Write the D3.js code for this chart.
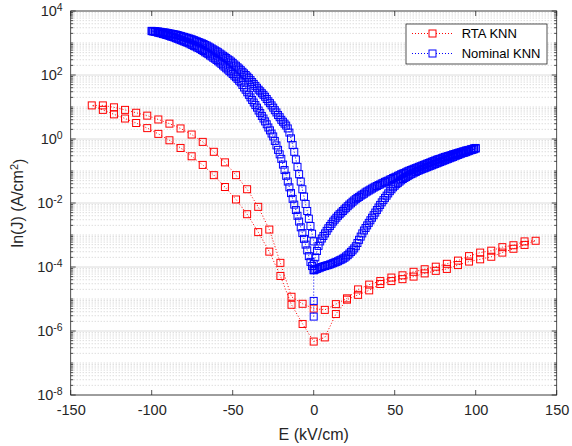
<!DOCTYPE html>
<html>
<head>
<meta charset="utf-8">
<script src="https://cdn.jsdelivr.net/npm/d3@7"></script>
<style>
body { margin: 0; background: #fff; }
svg { font-family: "Liberation Sans", Arial, Helvetica, sans-serif; }
</style>
</head>
<body>
<div id="chart"></div>
<script>
// RTA KNN: E (kV/cm) and log10 J (A/cm^2), in sweep order (loop is closed)
let rtaE = [0,
    6.85, 13.7, 20.55, 27.4, 34.25, 41.1, 47.95, 54.8, 61.65, 68.5, 75.35, 82.2, 89.05, 95.9, 102.75, 109.6, 116.45, 123.3, 130.15, 137,
    130.15, 123.3, 116.45, 109.6, 102.75, 95.9, 89.05, 82.2, 75.35, 68.5, 61.65, 54.8, 47.95, 41.1, 34.25, 27.4, 20.55, 13.7, 6.85,
    0,
    -6.85, -13.7, -20.55, -27.4, -34.25, -41.1, -47.95, -54.8, -61.65, -68.5, -75.35, -82.2, -89.05, -95.9, -102.75, -109.6, -116.45, -123.3, -130.15, -137,
    -130.15, -123.3, -116.45, -109.6, -102.75, -95.9, -89.05, -82.2, -75.35, -68.5, -61.65, -54.8, -47.95, -41.1, -34.25, -27.4, -20.55, -13.7, -6.85];
let rtaLogJ = [-6.33,
    -6.20, -5.47, -5.02, -4.87, -4.73, -4.53, -4.44, -4.38, -4.30, -4.20, -4.12, -4.06, -3.94, -3.83, -3.76, -3.68, -3.55, -3.43, -3.31, -3.18,
    -3.20, -3.32, -3.38, -3.49, -3.55, -3.66, -3.80, -3.90, -3.99, -4.07, -4.15, -4.26, -4.33, -4.44, -4.55, -4.70, -4.98, -5.16, -5.34,
    -5.30,
    -5.15, -4.93, -3.87, -2.83, -2.12, -1.57, -1.13, -0.73, -0.40, -0.09, 0.14, 0.33, 0.48, 0.61, 0.73, 0.82, 0.91, 0.99, 1.05, 1.05,
    0.91, 0.77, 0.64, 0.50, 0.34, 0.16, -0.04, -0.28, -0.54, -0.81, -1.13, -1.50, -1.89, -2.35, -2.91, -3.52, -4.28, -5.18, -5.78];

// Nominal KNN: first two points at E = 0, then four branches
let nomStartE = [0, 0];
let nomStartLogJ = [-5.55, -5.06];
let nomFieldPos = [0,1,2,3,4,5,6,7,8,9,10,11,12,13,14,15,16,17,18,19,20,21,22,23,24,25,26,27,28,29,30,
    31,32,33,34,35,36,37,38,39,40,41,42,43,44,45,46,47,48,49,50,51,52,53,54,55,56,57,58,59,60,
    61,62,63,64,65,66,67,68,69,70,71,72,73,74,75,76,77,78,79,80,81,82,83,84,85,86,87,88,89,90,
    91,92,93,94,95,96,97,98,99,100];
let nomFieldNeg = [-100,-99,-98,-97,-96,-95,-94,-93,-92,-91,-90,-89,-88,-87,-86,-85,-84,-83,-82,-81,
    -80,-79,-78,-77,-76,-75,-74,-73,-72,-71,-70,-69,-68,-67,-66,-65,-64,-63,-62,-61,
    -60,-59,-58,-57,-56,-55,-54,-53,-52,-51,-50,-49,-48,-47,-46,-45,-44,-43,-42,-41,
    -40,-39,-38,-37,-36,-35,-34,-33,-32,-31,-30,-29,-28,-27,-26,-25,-24,-23,-22,-21,
    -20,-19,-18,-17,-16,-15,-14,-13,-12,-11,-10,-9,-8,-7,-6,-5,-4,-3,-2,-1,0];
// rising branch, 0 -> 100
let nomLogJRise = [-4.10,-4.08,-4.06,-4.04,-4.02,-4.00,-3.98,-3.97,-3.95,-3.94,
    -3.92,-3.90,-3.88,-3.86,-3.84,-3.82,-3.79,-3.77,-3.74,-3.71,
    -3.67,-3.63,-3.58,-3.53,-3.48,-3.42,-3.35,-3.25,-3.15,-3.05,
    -2.95,-2.86,-2.78,-2.70,-2.62,-2.54,-2.46,-2.38,-2.30,-2.22,
    -2.14,-2.06,-1.98,-1.91,-1.84,-1.77,-1.70,-1.63,-1.57,-1.51,
    -1.46,-1.41,-1.37,-1.33,-1.29,-1.25,-1.22,-1.19,-1.16,-1.13,
    -1.10,-1.08,-1.05,-1.03,-1.00,-0.98,-0.96,-0.94,-0.92,-0.90,
    -0.88,-0.86,-0.84,-0.82,-0.80,-0.78,-0.76,-0.74,-0.72,-0.70,
    -0.68,-0.66,-0.64,-0.62,-0.60,-0.58,-0.56,-0.54,-0.52,-0.50,
    -0.48,-0.46,-0.44,-0.43,-0.41,-0.39,-0.37,-0.35,-0.34,-0.32,-0.30];
// falling branch, listed 0 -> 100
let nomLogJFall = [-3.90,-3.70,-3.50,-3.34,-3.20,-3.11,-3.03,-2.95,-2.87,-2.79,
    -2.72,-2.65,-2.58,-2.52,-2.46,-2.40,-2.35,-2.30,-2.25,-2.20,
    -2.15,-2.10,-2.05,-2.01,-1.96,-1.92,-1.88,-1.84,-1.81,-1.77,
    -1.74,-1.71,-1.67,-1.64,-1.61,-1.58,-1.55,-1.52,-1.49,-1.47,
    -1.44,-1.42,-1.39,-1.37,-1.34,-1.32,-1.30,-1.27,-1.25,-1.22,
    -1.20,-1.18,-1.15,-1.13,-1.10,-1.08,-1.06,-1.04,-1.01,-0.99,
    -0.97,-0.95,-0.93,-0.91,-0.89,-0.87,-0.85,-0.83,-0.81,-0.79,
    -0.77,-0.75,-0.73,-0.71,-0.69,-0.67,-0.65,-0.63,-0.62,-0.60,
    -0.58,-0.56,-0.55,-0.53,-0.52,-0.50,-0.48,-0.47,-0.45,-0.44,
    -0.42,-0.41,-0.39,-0.38,-0.36,-0.35,-0.34,-0.32,-0.31,-0.29,-0.28];
// negative side, upper branch, listed -100 -> 0
let nomLogJNegUp = [3.38,3.37,3.37,3.36,3.36,3.35,3.34,3.33,3.33,3.32,
    3.31,3.30,3.29,3.28,3.27,3.26,3.25,3.23,3.22,3.20,
    3.19,3.17,3.16,3.14,3.13,3.11,3.09,3.07,3.05,3.03,
    3.01,2.99,2.97,2.94,2.92,2.89,2.86,2.83,2.80,2.77,
    2.74,2.71,2.67,2.64,2.60,2.57,2.53,2.49,2.46,2.42,
    2.38,2.33,2.29,2.24,2.20,2.15,2.10,2.05,2.00,1.95,
    1.90,1.84,1.78,1.72,1.66,1.60,1.54,1.49,1.43,1.38,
    1.32,1.25,1.18,1.12,1.05,0.98,0.90,0.83,0.75,0.68,
    0.60,0.54,0.48,0.42,0.33,0.20,0.02,-0.19,-0.40,-0.64,
    -0.87,-1.10,-1.33,-1.57,-1.80,-2.03,-2.25,-2.49,-2.72,-2.96,-3.20];
// negative side, lower branch, listed -100 -> 0
let nomLogJNegLow = [3.37,3.36,3.35,3.34,3.32,3.31,3.30,3.28,3.27,3.25,
    3.24,3.22,3.20,3.19,3.17,3.15,3.13,3.11,3.09,3.07,
    3.05,3.03,3.01,2.99,2.96,2.94,2.91,2.89,2.86,2.84,
    2.81,2.78,2.75,2.71,2.68,2.65,2.61,2.58,2.54,2.51,
    2.47,2.43,2.39,2.35,2.30,2.26,2.21,2.17,2.12,2.08,
    2.03,1.98,1.93,1.88,1.82,1.77,1.69,1.61,1.54,1.46,
    1.38,1.30,1.22,1.14,1.06,0.98,0.89,0.81,0.72,0.64,
    0.55,0.46,0.36,0.27,0.17,0.08,-0.06,-0.20,-0.34,-0.48,
    -0.62,-0.80,-0.97,-1.15,-1.33,-1.51,-1.69,-1.87,-2.05,-2.22,
    -2.40,-2.58,-2.76,-2.94,-3.12,-3.30,-3.48,-3.66,-3.84,-3.97,-4.10];

let xTicks = [-150, -100, -50, 0, 50, 100, 150];
let yTickExp = [-8, -6, -4, -2, 0, 2, 4];
let seriesNames = ["RTA KNN", "Nominal KNN"];
let seriesColors = ["#ff0000", "#0000ff"];

let margin = {top: 11, right: 15.3, bottom: 51, left: 70.7};
let W = 572, H = 446;
let width = W - margin.left - margin.right;
let height = H - margin.top - margin.bottom;

let svg = d3.select("#chart").append("svg")
    .attr("width", W)
    .attr("height", H)
    .append("g")
    .attr("transform", "translate(" + margin.left + "," + margin.top + ")");

let x = d3.scaleLinear().domain([-150, 150]).range([0, width]);
let y = d3.scaleLog().domain([1e-8, 1e4]).range([height, 0]);

let yMajor = yTickExp.map(function (e) { return Math.pow(10, e); });
let yMinor = [];
for (let n = -8; n < 4; n++) {
    for (let k = 1; k < 10; k++) {
        if (k === 1 && n % 2 === 0) continue;
        yMinor.push(k * Math.pow(10, n));
    }
}

// grid
svg.selectAll(".minor-grid")
    .data(yMinor)
    .enter().append("line")
    .attr("class", "minor-grid")
    .attr("x1", 0).attr("x2", width)
    .attr("y1", function (d) { return y(d); })
    .attr("y2", function (d) { return y(d); })
    .style("stroke", "#bababa")
    .style("stroke-width", 0.7)
    .style("stroke-dasharray", "1,2");

svg.selectAll(".major-grid")
    .data(yMajor)
    .enter().append("line")
    .attr("class", "major-grid")
    .attr("x1", 0).attr("x2", width)
    .attr("y1", function (d) { return y(d); })
    .attr("y2", function (d) { return y(d); })
    .style("stroke", "#dcdcdc")
    .style("stroke-width", 1);

// data
let rtaPts = rtaE.map(function (e, i) { return {E: e, J: Math.pow(10, rtaLogJ[i])}; });

let nomPts = [];
nomStartE.forEach(function (e, i) { nomPts.push({E: e, J: Math.pow(10, nomStartLogJ[i])}); });
nomFieldPos.forEach(function (e, i) { nomPts.push({E: e, J: Math.pow(10, nomLogJRise[i])}); });
for (let i = nomFieldPos.length - 1; i >= 0; i--) nomPts.push({E: nomFieldPos[i], J: Math.pow(10, nomLogJFall[i])});
for (let i = nomFieldNeg.length - 1; i >= 0; i--) nomPts.push({E: nomFieldNeg[i], J: Math.pow(10, nomLogJNegUp[i])});
nomFieldNeg.forEach(function (e, i) { nomPts.push({E: e, J: Math.pow(10, nomLogJNegLow[i])}); });

let ms = 7;

function drawSeries(pts, color, closed) {
    let line = d3.line()
        .x(function (d) { return x(d.E); })
        .y(function (d) { return y(d.J); })
        .curve(closed ? d3.curveLinearClosed : d3.curveLinear);
    svg.append("path")
        .datum(pts)
        .attr("d", line)
        .style("fill", "none")
        .style("stroke", color)
        .style("stroke-width", 1)
        .style("stroke-dasharray", "1,2");
    svg.append("g").selectAll("rect")
        .data(pts)
        .enter().append("rect")
        .attr("x", function (d) { return x(d.E) - ms / 2; })
        .attr("y", function (d) { return y(d.J) - ms / 2; })
        .attr("width", ms)
        .attr("height", ms)
        .style("fill", "none")
        .style("stroke", color)
        .style("stroke-width", 1);
}

drawSeries(rtaPts, seriesColors[0], true);
drawSeries(nomPts, seriesColors[1], false);

// axes box and ticks
svg.append("rect")
    .attr("width", width).attr("height", height)
    .style("fill", "none")
    .style("stroke", "#262626")
    .style("stroke-width", 0.8);

function tickLines(vals, len, side) {
    svg.append("g").selectAll("line")
        .data(vals)
        .enter().append("line")
        .attr("x1", function (d) { return side === "x0" || side === "x1" ? x(d) : (side === "yL" ? 0 : width); })
        .attr("x2", function (d) { return side === "x0" || side === "x1" ? x(d) : (side === "yL" ? len : width - len); })
        .attr("y1", function (d) { return side === "yL" || side === "yR" ? y(d) : (side === "x0" ? height : 0); })
        .attr("y2", function (d) { return side === "yL" || side === "yR" ? y(d) : (side === "x0" ? height - len : len); })
        .style("stroke", "#262626")
        .style("stroke-width", 0.8);
}
tickLines(xTicks, 5, "x0");
tickLines(xTicks, 5, "x1");
tickLines(yMajor, 5, "yL");
tickLines(yMajor, 5, "yR");
tickLines(yMinor, 2.5, "yL");
tickLines(yMinor, 2.5, "yR");

// tick labels
let xAxis = svg.append("g")
    .attr("transform", "translate(0," + height + ")")
    .call(d3.axisBottom(x).tickValues(xTicks).tickSize(0).tickPadding(10)
        .tickFormat(function (d) { return String(d); }));
xAxis.select(".domain").remove();
xAxis.selectAll("text").style("font-size", "14.5px").style("fill", "#262626")
    .style("font-family", "'Liberation Sans', Arial, sans-serif");

let yAxis = svg.append("g")
    .call(d3.axisLeft(y).tickValues(yMajor).tickSize(0).tickPadding(8).tickFormat(""));
yAxis.select(".domain").remove();
yAxis.selectAll(".tick text").each(function (d, i) {
    let t = d3.select(this)
        .style("font-size", "14.5px").style("fill", "#262626")
        .style("font-family", "'Liberation Sans', Arial, sans-serif");
    t.append("tspan").text("10");
    t.append("tspan").attr("dy", "-0.5em").style("font-size", "10.5px").text(String(yTickExp[i]));
});

// axis labels
svg.append("text")
    .attr("x", width / 2)
    .attr("y", height + 45)
    .style("text-anchor", "middle")
    .style("font-size", "16px")
    .style("fill", "#262626")
    .text("E (kV/cm)");

let yl = svg.append("text")
    .attr("transform", "translate(" + (-48) + "," + (height / 2) + ") rotate(-90)")
    .style("text-anchor", "middle")
    .style("font-size", "16px")
    .style("fill", "#262626");
yl.append("tspan").text("ln(J) (A/cm");
yl.append("tspan").attr("dy", "-0.45em").style("font-size", "11px").text("2");
yl.append("tspan").attr("dy", "0.45em").text(")");

// legend
let lg = svg.append("g").attr("transform", "translate(" + (406 - margin.left) + "," + (24 - margin.top) + ")");
lg.append("rect")
    .attr("width", 141).attr("height", 40)
    .style("fill", "#fff")
    .style("stroke", "#262626")
    .style("stroke-width", 0.8);
seriesNames.forEach(function (name, i) {
    let cy = 9.5 + i * 20;
    lg.append("line")
        .attr("x1", 6).attr("x2", 47).attr("y1", cy).attr("y2", cy)
        .style("stroke", seriesColors[i])
        .style("stroke-width", 1)
        .style("stroke-dasharray", "1,2");
    lg.append("rect")
        .attr("x", 26.5 - ms / 2).attr("y", cy - ms / 2)
        .attr("width", ms).attr("height", ms)
        .style("fill", "#fff")
        .style("stroke", seriesColors[i])
        .style("stroke-width", 1);
    lg.append("text")
        .attr("x", 55.7).attr("y", cy)
        .attr("dy", "0.36em")
        .style("font-size", "13px")
        .style("fill", "#000")
        .text(name);
});
</script>
</body>
</html>
